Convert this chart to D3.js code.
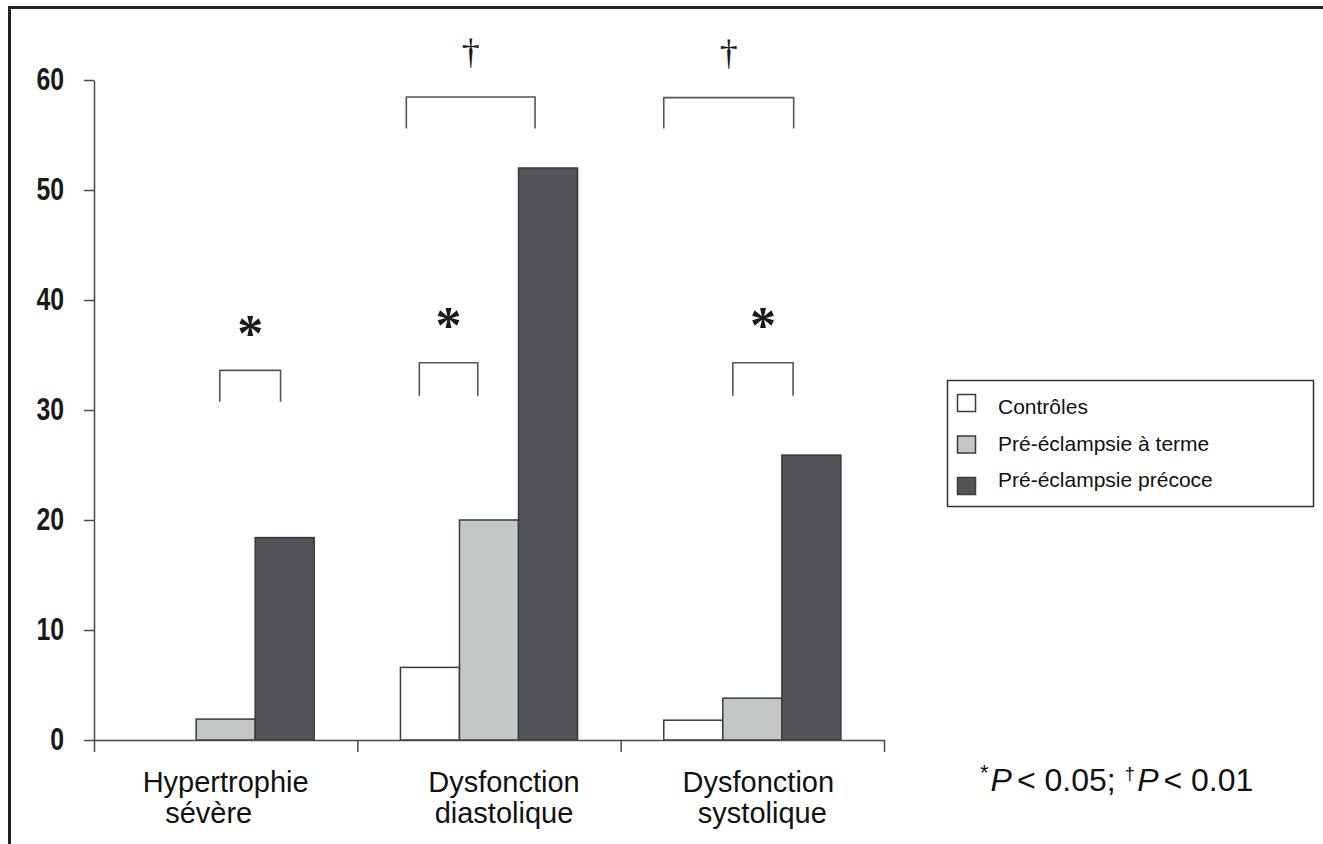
<!DOCTYPE html>
<html>
<head>
<meta charset="utf-8">
<script src="https://cdn.jsdelivr.net/npm/d3@7"></script>
<style>
  body { margin: 0; background: #fff; }
  svg { display: block; }
</style>
</head>
<body>
<svg id="chart" width="1323" height="844"></svg>
<script>
// Categories (x axis), each label split over two lines
const categories = ["Hypertrophie sévère", "Dysfonction diastolique", "Dysfonction systolique"];
const categoryLines = [["Hypertrophie", "sévère"], ["Dysfonction", "diastolique"], ["Dysfonction", "systolique"]];

// Series and their values (%)
const seriesNames = ["Contrôles", "Pré-éclampsie à terme", "Pré-éclampsie précoce"];
const controlesValues = [0, 6.6, 1.8];
const termeValues = [1.9, 20, 3.8];
const precoceValues = [18.4, 52, 25.9];

// Y axis ticks
const yTicks = [0, 10, 20, 30, 40, 50, 60];

// Significance brackets: category index, span in bar widths, top/foot level, symbol
const bracketGroup = [0, 1, 1, 2, 2];
const bracketFrom = [1.4, 0.32, 0.1, 0.0, 1.17];
const bracketTo = [2.43, 1.31, 2.28, 2.2, 2.19];
const bracketTop = [33.6, 34.3, 58.45, 58.4, 34.3];
const bracketFoot = [30.75, 31.3, 55.6, 55.6, 31.3];
const bracketMark = ["*", "*", "†", "†", "*"];

const seriesValues = [controlesValues, termeValues, precoceValues];
const fills = ["#ffffff", "#c3c7c6", "#545357"];
const strokeCol = "#3a3a3a";

const svg = d3.select("#chart");

// Outer frame (top and left edges)
svg.append("path")
  .attr("d", "M9.5,850V7.5H1330")
  .attr("fill", "none")
  .attr("stroke", "#222")
  .attr("stroke-width", 3);

const x = d3.scaleBand().domain(categories).range([94, 884]).paddingInner(0).paddingOuter(0);
const xs = d3.scaleBand().domain(seriesNames).range([0, x.bandwidth()]).paddingInner(0).paddingOuter(0.73);
const y = d3.scaleLinear().domain([0, 60]).range([740, 80]);

// Bars
const barData = [];
categories.forEach((c, i) => {
  seriesNames.forEach((s, j) => {
    barData.push({ cat: c, series: s, idx: j, value: seriesValues[j][i] });
  });
});

svg.append("g").selectAll("rect")
  .data(barData)
  .join("rect")
  .attr("x", d => x(d.cat) + xs(d.series))
  .attr("y", d => y(d.value))
  .attr("width", xs.bandwidth())
  .attr("height", d => y(0) - y(d.value))
  .attr("fill", d => fills[d.idx])
  .attr("stroke", strokeCol)
  .attr("stroke-width", 1.5);

// Y axis
const gy = svg.append("g")
  .attr("transform", "translate(94,0)")
  .call(d3.axisLeft(y).tickValues(yTicks).tickSize(10).tickSizeOuter(0).tickPadding(20));
gy.selectAll("path, line").attr("stroke", "#4a4a4a").attr("stroke-width", 1.5);
gy.selectAll("text")
  .attr("font-family", "'Liberation Sans Narrow', 'Arial Narrow', 'Liberation Sans', sans-serif")
  .attr("font-weight", "bold")
  .attr("font-size", 31)
  .attr("fill", "#1a1a1a")
  .each(function () {
    // condensed look for the tick numbers
    const w = this.getComputedTextLength();
    d3.select(this).attr("textLength", w * 0.8).attr("lengthAdjust", "spacingAndGlyphs");
  });

// X axis with ticks at the category boundaries
const xEdge = d3.scaleLinear().domain([0, categories.length]).range(x.range());
const gx = svg.append("g")
  .attr("transform", "translate(0,740)")
  .call(d3.axisBottom(xEdge)
    .tickValues(d3.range(categories.length + 1))
    .tickSize(12)
    .tickSizeOuter(0)
    .tickFormat(""));
gx.selectAll("path, line").attr("stroke", "#4a4a4a").attr("stroke-width", 1.5);

// Category labels
const labelShift = [[0, -17], [15, 15], [6, 10]];
const labelG = svg.append("g")
  .attr("font-family", "'Liberation Sans', Arial, sans-serif")
  .attr("font-size", 29)
  .attr("fill", "#111")
  .attr("text-anchor", "middle");
categories.forEach((c, i) => {
  categoryLines[i].forEach((line, k) => {
    labelG.append("text")
      .attr("x", x(c) + x.bandwidth() / 2 + labelShift[i][k])
      .attr("y", 792 + k * 31)
      .text(line);
  });
});

// Significance brackets and symbols
const bracketG = svg.append("g");
bracketGroup.forEach((g, i) => {
  const base = x(categories[g]) + xs(seriesNames[0]);
  const x0 = base + bracketFrom[i] * xs.step();
  const x1 = base + bracketTo[i] * xs.step();
  const yt = y(bracketTop[i]);
  const yf = y(bracketFoot[i]);
  bracketG.append("path")
    .attr("d", d3.line()([[x0, yf], [x0, yt], [x1, yt], [x1, yf]]))
    .attr("fill", "none")
    .attr("stroke", "#555")
    .attr("stroke-width", 1.6);
  const cx = (x0 + x1) / 2;
  const cy = yt - 43;
  if (bracketMark[i] === "*") {
    bracketG.append("text")
      .attr("x", cx)
      .attr("y", cy + 0.45 * 52)
      .attr("text-anchor", "middle")
      .attr("font-family", "'Liberation Serif', serif")
      .attr("font-weight", "bold")
      .attr("font-size", 52)
      .attr("fill", "#1a1a1a")
      .text("*");
  } else {
    bracketG.append("text")
      .attr("x", cx)
      .attr("y", cy + 10)
      .attr("text-anchor", "middle")
      .attr("font-family", "'Liberation Serif', serif")
      .attr("font-size", 36)
      .attr("fill", "#1a1a1a")
      .text("†");
  }
});

// Legend
const legend = svg.append("g");
legend.append("rect")
  .attr("x", 947.5).attr("y", 380.5)
  .attr("width", 366).attr("height", 126)
  .attr("fill", "#fff")
  .attr("stroke", "#333")
  .attr("stroke-width", 1.5);
seriesNames.forEach((s, j) => {
  legend.append("rect")
    .attr("x", 957.5)
    .attr("y", 394.5 + j * 41.5)
    .attr("width", 18)
    .attr("height", 17)
    .attr("fill", fills[j])
    .attr("stroke", strokeCol)
    .attr("stroke-width", 1.5);
  legend.append("text")
    .attr("x", 998)
    .attr("y", 414 + j * 36.5)
    .attr("font-family", "'Liberation Sans', Arial, sans-serif")
    .attr("font-size", 21)
    .attr("fill", "#111")
    .text(s);
});

// Significance note
const note = svg.append("text")
  .attr("x", 980)
  .attr("y", 791)
  .attr("font-family", "'Liberation Sans', Arial, sans-serif")
  .attr("font-size", 32)
  .attr("fill", "#111");
note.append("tspan").attr("font-size", 22).attr("dy", -11).text("*");
note.append("tspan").attr("font-style", "italic").attr("dy", 11).attr("dx", 2).text("P");
note.append("tspan").attr("dx", 5).text("< 0.05; ");
note.append("tspan").attr("font-size", 19).attr("dy", -11).text("†");
note.append("tspan").attr("font-style", "italic").attr("dy", 11).attr("dx", 2).text("P");
note.append("tspan").attr("dx", 5).text("< 0.01");
</script>
</body>
</html>
